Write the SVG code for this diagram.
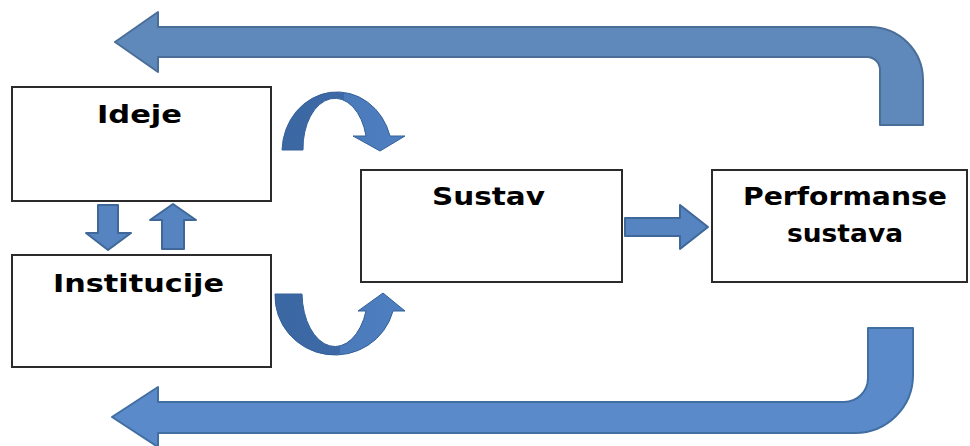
<svg xmlns="http://www.w3.org/2000/svg" width="970" height="446" viewBox="0 0 970 446">
<style>
.box{fill:#fff;stroke:#2b2b2b;stroke-width:2}
.lbl{font-family:"DejaVu Sans",sans-serif;font-weight:bold;font-size:25px;fill:#000}
.arr{fill:#5584c0;stroke:#3f6898;stroke-width:2;stroke-linejoin:round}
.curve{fill:url(#cg);stroke:#34609a;stroke-width:1}
</style>
<defs>
<linearGradient id="cg" x1="0" y1="0" x2="1" y2="0">
<stop offset="0" stop-color="#3b67a3"/>
<stop offset="0.5" stop-color="#3d6aa6"/>
<stop offset="0.5" stop-color="#4a7aba"/>
<stop offset="1" stop-color="#4e7fc0"/>
</linearGradient>
</defs>
<g id="connectors">
<path class="arr" style="fill:#6089bb;stroke:#4b6e98" d="M115,42 L158,12 L158,27 L870,27 A53,53 0 0 1 923,80 L923,125 L880,125 L880,70 A13,13 0 0 0 867,57 L158,57 L158,72 Z"/>
<path class="arr" style="fill:#5a8ac9;stroke:#416fa2" d="M112,417 L158,387 L158,402 L844,402 A24,24 0 0 0 868,378 L868,328 L913,328 L913,375 A58,58 0 0 1 855,433 L158,433 L158,447 Z"/>
<path class="curve" d="M282,150 A55,60 0 0 1 390,136 L405,136 L380,151 L353,136 L366,136 A32,50 0 0 0 303,150 Z"/>
<path class="curve" d="M275,294 A60,59 0 0 0 393,311 L405,311 L383,293 L358,311 L366,311 A33,54 0 0 1 302,294 Z"/>
<path class="arr" d="M98,205 L118,205 L118,233 L131,233 L108,250 L86,233 L98,233 Z"/>
<path class="arr" d="M162,249 L184,249 L184,220 L196,220 L173,204 L150,220 L162,220 Z"/>
<path class="arr" d="M625,218 L680,218 L680,205 L708,227 L680,249 L680,236 L625,236 Z"/>
</g>
<g id="ideje">
<rect class="box" x="12" y="87" width="259" height="114"/>
<text class="lbl" x="97" y="123" textLength="85" lengthAdjust="spacingAndGlyphs">Ideje</text>
</g>
<g id="institucije">
<rect class="box" x="12" y="255" width="259" height="112"/>
<text class="lbl" x="53" y="292" textLength="171" lengthAdjust="spacingAndGlyphs">Institucije</text>
</g>
<g id="sustav">
<rect class="box" x="361" y="170" width="261" height="112"/>
<text class="lbl" x="432" y="205" textLength="113" lengthAdjust="spacingAndGlyphs">Sustav</text>
</g>
<g id="performanse">
<rect class="box" x="712" y="170" width="255" height="112"/>
<text class="lbl" x="743" y="205" textLength="204" lengthAdjust="spacingAndGlyphs">Performanse</text>
<text class="lbl" x="787" y="242" textLength="116" lengthAdjust="spacingAndGlyphs">sustava</text>
</g>
</svg>
